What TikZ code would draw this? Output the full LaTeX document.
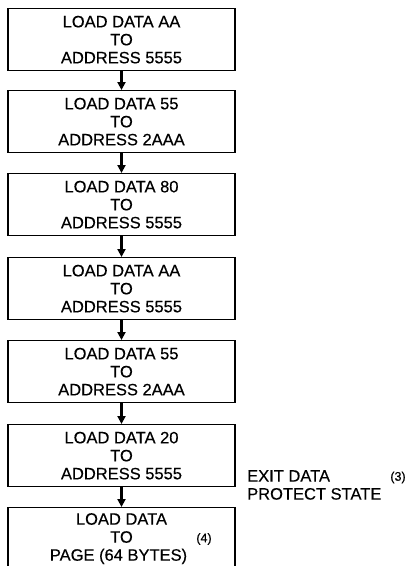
\documentclass[tikz,border=0pt]{standalone}
\usepackage{fontspec}
\setmainfont{Liberation Sans}[FakeBold=0.35]
\usetikzlibrary{arrows.meta}
\begin{document}
\begin{tikzpicture}[x=1pt,y=-1pt,
  stepbox/.style={draw, line width=1.3pt, minimum width=227pt, minimum height=62pt,
    inner sep=0pt, align=center, anchor=north, font=\fontsize{16.5}{18}\selectfont},
  flow/.style={-{Triangle[length=8pt,width=8pt]}, line width=2.2pt},
  note/.style={font=\fontsize{16.5}{18}\selectfont, align=left, anchor=west, inner sep=0pt},
  supnote/.style={font=\fontsize{12.5}{12.5}\selectfont, inner sep=0pt}]
\useasboundingbox (0,0) rectangle (411,566);
\clip (0,0) rectangle (411,566);
\node[stepbox] (b1) at (121.5,8)   {LOAD DATA AA\\TO\\ADDRESS 5555};
\node[stepbox] (b2) at (121.5,90)  {LOAD DATA 55\\TO\\ADDRESS 2AAA};
\node[stepbox] (b3) at (121.5,173) {LOAD DATA 80\\TO\\ADDRESS 5555};
\node[stepbox] (b4) at (121.5,257) {LOAD DATA AA\\TO\\ADDRESS 5555};
\node[stepbox] (b5) at (121.5,340) {LOAD DATA 55\\TO\\ADDRESS 2AAA};
\node[stepbox] (b6) at (121.5,424) {LOAD DATA 20\\TO\\ADDRESS 5555};
\node[stepbox] (b7) at (121.5,507) {LOAD DATA\\TO\\PAGE (64 BYTES)\rule{6pt}{0pt}};
\node[supnote] (n4) at (204,539) {(4)};
\node[note] (exit) at (247,485) {EXIT DATA\\PROTECT STATE};
\node[supnote] (n3) at (398,477.5) {(3)};
\foreach \a/\b in {b1/b2,b2/b3,b3/b4,b4/b5,b5/b6,b6/b7}
  \draw[flow] (\a.south) -- (\b.north);
\end{tikzpicture}
\end{document}
